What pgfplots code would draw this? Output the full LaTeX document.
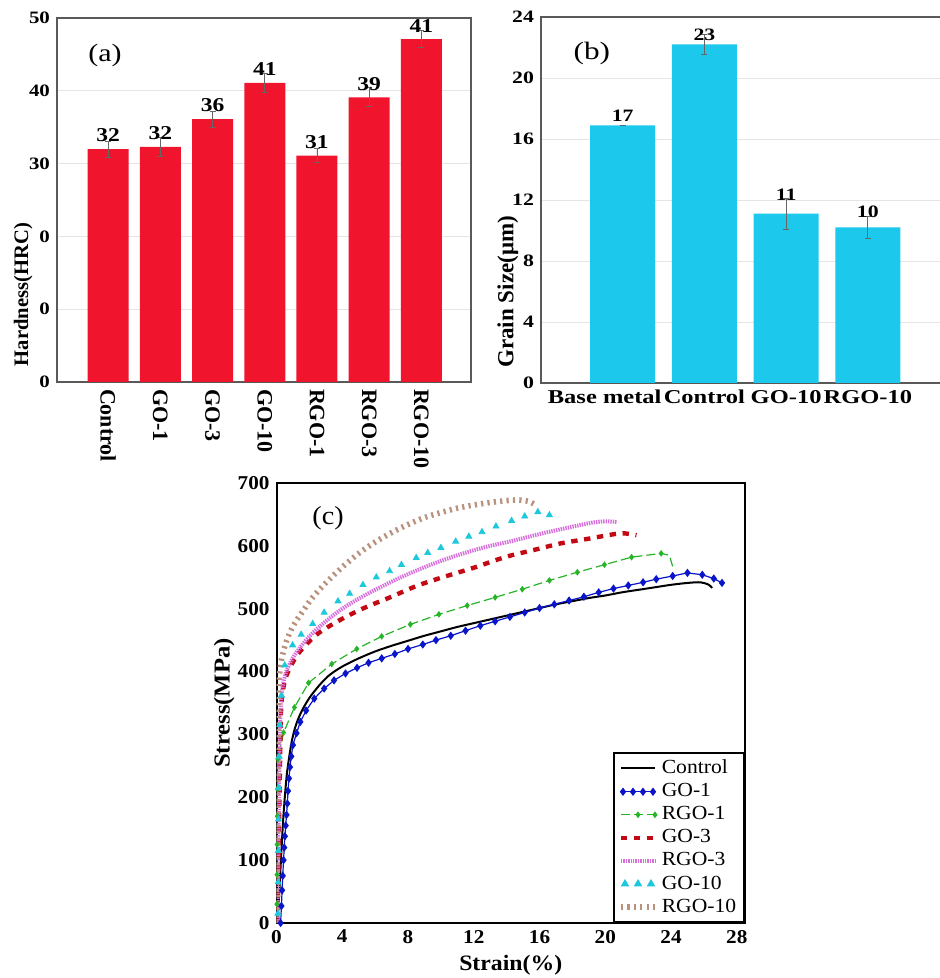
\documentclass[border=0pt]{standalone}
\usepackage{pgfplots}
\pgfplotsset{compat=1.18}
\usepackage{pgfplotstable}
\usepackage{fontspec}
\setmainfont{Liberation Serif}
\newfontfamily\fa[FakeStretch=1.2]{Liberation Serif}
\newfontfamily\fb[FakeStretch=1.25]{Liberation Serif}
\newfontfamily\fc[FakeStretch=1.08]{Liberation Serif}
\definecolor{barred}{RGB}{240,20,45}
\definecolor{barcyan}{RGB}{28,200,236}
\definecolor{cGO1}{RGB}{10,20,200}
\definecolor{cRGO1}{RGB}{40,180,40}
\definecolor{cGO3}{RGB}{195,10,20}
\definecolor{cRGO3}{RGB}{215,110,220}
\definecolor{cGO10}{RGB}{30,200,220}
\definecolor{cRGO10}{RGB}{185,145,125}

\pgfplotsset{
  linelegend/.style={legend image code/.code={\draw[##1] (0pt,0pt) -- (17pt,0pt);}},
  fourmarklegend/.style={legend image code/.code={\draw[##1] plot coordinates {(1pt,0pt)(6pt,0pt)(11pt,0pt)(16pt,0pt)};}},
  midmarklegend/.style={legend image code/.code={\draw[mark repeat=2,mark phase=2,##1] plot coordinates {(0pt,0pt)(8.5pt,0pt)(17pt,0pt)};}},
  marksonlylegend/.style={legend image code/.code={\path[##1] plot coordinates {(2pt,0pt)(8.5pt,0pt)(15pt,0pt)};}},
}

\pgfplotstableread{
x y e lab
0 32.0 1.1 32
1 32.3 1.3 32
2 36.1 1.1 36
3 41.1 1.3 41
4 31.1 1.0 31
5 39.1 1.3 39
6 47.1 1.2 41
}\hardness

\pgfplotstableread{
x y e lab s
0 16.9 0 17 0
1 22.2 0.65 23 0
2 11.1 1.0 11 5
3 10.2 0.7 10 3
}\grain

\begin{document}
\begin{tikzpicture}[x=1pt,y=1pt]
\useasboundingbox (0,0) rectangle (470,489);
\clip (0,0) rectangle (470,489);

% ---------------- (a)
\begin{axis}[
  at={(28.5pt,298pt)}, anchor=south west, scale only axis,
  width=207pt, height=182pt,
  ybar, bar width=20.5pt,
  xmin=-0.98, xmax=6.95, ymin=0, ymax=50,
  xtick={0,...,6}, xticklabels={Control,GO-1,GO-3,GO-10,RGO-1,RGO-3,RGO-10},
  ytick={0,10,...,50}, yticklabels={0,0,0,30,40,50},
  major tick length=0pt,
  ymajorgrids, grid style={black!10, line width=0.4pt},
  axis line style={black!65, line width=0.6pt},
  /pgf/number format/assume math mode=true,
  yticklabel style={font=\fa\bfseries\fontsize{8.7}{9}\selectfont},
  xticklabel style={font=\bfseries\fontsize{11}{12}\selectfont, rotate=-90, anchor=west},
  ylabel={Hardness(HRC)},
  ylabel style={font=\bfseries\fontsize{10.3}{11}\selectfont, at={(axis description cs:-0.082,0.24)}, anchor=center},
  nodes near coords, point meta=explicit symbolic,
  nodes near coords style={font=\fa\bfseries\fontsize{9.8}{10}\selectfont, black},
]
\addplot[fill=barred, draw=none,
  error bars/.cd, y dir=both, y explicit,
  error bar style={black!60, line width=0.4pt},
  error mark options={rotate=90, mark size=1.5pt, black!60}]
  table[x=x,y=y,y error=e,meta=lab]{\hardness};
\node[font=\fa\fontsize{12.5}{14}\selectfont] at (rel axis cs:0.116,0.896) {(a)};
\end{axis}

% ---------------- (b)
\begin{axis}[
  at={(270.5pt,297.5pt)}, anchor=south west, scale only axis,
  width=202pt, height=183pt,
  ybar, bar width=32.5pt,
  xmin=-1, xmax=3.945, ymin=0, ymax=24,
  xtick={0,...,3}, xticklabels={{\hspace*{-18pt}Base metal},Control,GO-10,RGO-10},
  ytick={0,4,...,24},
  major tick length=0pt,
  ymajorgrids, grid style={black!10, line width=0.4pt},
  axis line style={black!65, line width=0.6pt},
  /pgf/number format/assume math mode=true,
  yticklabel style={font=\fb\bfseries\fontsize{8.7}{9}\selectfont},
  xticklabel style={font=\fb\bfseries\fontsize{9.8}{10}\selectfont},
  ylabel={Grain Size(μm)},
  ylabel style={font=\bfseries\fontsize{11.5}{12}\selectfont, at={(axis description cs:-0.082,0.249)}, anchor=center},
  nodes near coords, point meta=explicit symbolic,
  visualization depends on={\thisrow{s} \as \lshift},
  nodes near coords style={font=\fb\bfseries\fontsize{8.7}{9}\selectfont, black, inner sep=1.5pt, yshift=\lshift pt},
]
\addplot[fill=barcyan, draw=none,
  error bars/.cd, y dir=both, y explicit,
  error bar style={black!60, line width=0.4pt},
  error mark options={rotate=90, mark size=1.5pt, black!60}]
  table[x=x,y=y,y error=e,meta=lab]{\grain};
\node[font=\fb\fontsize{12.5}{14}\selectfont] at (rel axis cs:0.126,0.90) {(b)};
\end{axis}

% ---------------- (c)
\begin{axis}[
  at={(138.25pt,27.5pt)}, anchor=south west, scale only axis,
  width=234.25pt, height=220pt,
  xmin=0, xmax=28.5, ymin=0, ymax=700,
  xtick={0,4,...,28}, ytick={0,100,...,700},
  major tick length=0pt,
  axis line style={black, line width=1pt},
  /pgf/number format/assume math mode=true,
  ticklabel style={font=\fc\bfseries\fontsize{9.8}{10}\selectfont},
  xlabel={Strain(\%)}, ylabel={Stress(MPa)},
  xlabel style={font=\fc\bfseries\fontsize{11}{12}\selectfont, at={(axis description cs:0.5,-0.095)}, anchor=center},
  ylabel style={font=\fc\bfseries\fontsize{11.4}{12}\selectfont, at={(axis description cs:-0.112,0.5)}, anchor=center},
  legend style={at={(1,0)}, anchor=south east, draw=black, line width=0.8pt,
     font=\fc\fontsize{10}{11}\selectfont, inner xsep=2pt, inner ysep=1.5pt,
     row sep=-0.6pt, fill=white},
  legend cell align=left,
  linelegend,
]
\addplot[black, line width=1pt, smooth] coordinates {
(0.05,0)(0.15,40)(0.25,90)(0.33,130)(0.42,170)(0.52,205)(0.63,237)(0.76,262)(0.9,285)(1.05,303)(1.25,320)(1.55,338)(2,358)(2.6,378)(3.2,394)(4,408)(5,421)(6,432)(7,441)(8,449)(9,457)(10,464)(11,471)(12,477)(13,483)(14,489)(15,495)(16,501)(17,507)(18,512)(19,517)(20,521)(21,526)(22,530)(23,534)(24,538)(25,541)(25.8,542)(26.3,538)(26.5,533)};
\addlegendentry{Control}

\addplot[cGO1, line width=0.6pt, mark=diamond*, mark size=1.6pt, mark options={solid}, fourmarklegend] coordinates {
(0.25,0)(0.3,27)(0.34,52)(0.38,75)(0.43,100)(0.47,120)(0.51,138)(0.56,155)(0.61,172)(0.66,190)(0.7,210)(0.76,230)(0.82,248)(0.9,265)(1.0,283)(1.22,302)(1.45,320)(1.8,338)(2.3,357)(2.9,373)(3.5,386)(4.2,397)(4.9,406)(5.6,414)(6.4,421)(7.2,428)(8.0,436)(8.9,443)(9.7,450)(10.6,457)(11.5,465)(12.4,473)(13.3,480)(14.2,487)(15.1,494)(16,501)(16.9,507)(17.8,513)(18.7,519)(19.6,526)(20.5,532)(21.4,537)(22.3,542)(23.1,547)(24.1,552)(25.0,557)(25.9,554)(26.6,548)(27.1,541)};
\addlegendentry{GO-1}

\addplot[cRGO1, line width=0.6pt, dash pattern=on 4.5pt off 2pt, mark=diamond*, mark size=1.2pt, mark options={solid},
  mark indices={2,3,4,5,6,7,8,9,10,11,12,13,14,15,16,17,18,19,20,21,22,23}, midmarklegend] coordinates {
(0.02,0)(0.02,30)(0.03,77)(0.04,125)(0.05,170)(0.06,213)(0.08,261)(0.43,303)(1.09,343)(1.95,382)(3.36,412)(4.88,436)(6.4,456)(8.14,475)(9.88,491)(11.6,505)(13.3,518)(14.95,531)(16.6,545)(18.3,558)(19.95,570)(21.6,582)(23.4,588)(23.9,585)(24.1,567)};
\addlegendentry{RGO-1}

\addplot[cGO3, line width=2.2pt, dash pattern=on 3.2pt off 3.3pt, smooth] coordinates {
(0.05,0)(0.12,100)(0.18,200)(0.24,290)(0.3,350)(0.5,385)(0.8,405)(1.2,424)(1.7,440)(2.6,462)(4.0,484)(5.4,502)(6.9,518)(8.5,536)(10.1,550)(12.1,566)(13.3,577)(14.3,585)(15.1,590)(15.9,595)(17.3,604)(18.9,611)(20.4,618)(21.1,620)(21.9,617)};
\addlegendentry{GO-3}

\addplot[cRGO3, line width=2pt, dash pattern=on 0.7pt off 0.5pt, smooth] coordinates {
(0.05,0)(0.1,100)(0.15,200)(0.2,300)(0.3,360)(0.5,392)(0.8,412)(1.2,430)(2.0,456)(3,480)(4,500)(5,516)(6,530)(7,543)(8,555)(9,566)(10,576)(11,585)(12,593)(13,600)(14.2,607)(16.2,620)(18.1,631)(19.2,637)(20,639)(20.7,638)};
\addlegendentry{RGO-3}

\addplot[cGO10, only marks, mark=triangle*, mark size=1.7pt, marksonlylegend] coordinates {
(0.08,15)(0.1,65)(0.11,115)(0.12,165)(0.14,215)(0.16,265)(0.2,315)(0.3,362)(0.5,410)(0.98,442)(1.5,459)(2.2,476)(2.9,494)(3.74,512)(4.45,524)(5.26,538)(6.07,550)(6.88,560)(7.6,570)(8.5,581)(9.2,589)(10.0,597)(10.9,607)(11.7,615)(12.5,622)(13.35,631)(14.3,640)(15.1,647)(15.9,654)(16.6,649)};
\addlegendentry{GO-10}

\addplot[cRGO10, line width=2.8pt, dash pattern=on 1.1pt off 2.1pt, smooth] coordinates {
(0.02,0)(0.05,100)(0.07,200)(0.09,300)(0.12,375)(0.3,418)(0.6,448)(1.0,472)(1.6,496)(2.2,518)(3.0,541)(4.0,566)(5.0,588)(6.0,606)(7.0,621)(8.0,634)(9.0,645)(10,653)(11,660)(12,665)(13,669)(14,672)(14.7,673)(15.3,671)(15.7,666)};
\addlegendentry{RGO-10}

\node[font=\fc\fontsize{13}{14}\selectfont] at (rel axis cs:0.11,0.92) {(c)};
\end{axis}
\end{tikzpicture}
\end{document}
